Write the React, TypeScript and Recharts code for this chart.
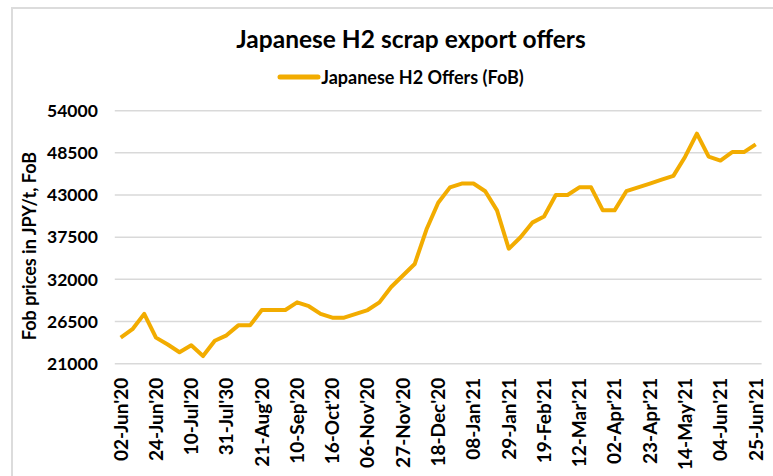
import React from 'react';
import { LineChart, Line, XAxis, YAxis, CartesianGrid } from 'recharts';

const dates = [
    "02-Jun'20", "09-Jun'20", "17-Jun'20", "24-Jun'20", "30-Jun'20", "03-Jul'20", "10-Jul'20", "17-Jul'20",
    "24-Jul'20", "31-Jul'30", "07-Aug'20", "14-Aug'20", "21-Aug'20", "28-Aug'20", "04-Sep'20", "10-Sep'20",
    "18-Sep'20", "02-Oct'20", "16-Oct'20", "23-Oct'20", "30-Oct'20", "06-Nov'20", "13-Nov'20", "20-Nov'20",
    "27-Nov'20", "04-Dec'20", "11-Dec'20", "18-Dec'20", "25-Dec'20", "31-Dec'20", "08-Jan'21", "15-Jan'21",
    "22-Jan'21", "29-Jan'21", "05-Feb'21", "12-Feb'21", "19-Feb'21", "26-Feb'21", "05-Mar'21", "12-Mar'21",
    "19-Mar'21", "26-Mar'21", "02-Apr'21", "09-Apr'21", "16-Apr'21", "23-Apr'21", "30-Apr'21", "07-May'21",
    "14-May'21", "21-May'21", "28-May'21", "04-Jun'21", "11-Jun'21", "18-Jun'21", "25-Jun'21",
];

const offers = [
    24400, 25500, 27500, 24400, 23500, 22500, 23400, 22000,
    24000, 24700, 26000, 26000, 28000, 28000, 28000, 29000,
    28500, 27500, 27000, 27000, 27500, 28000, 29000, 31000,
    32500, 34000, 38500, 42000, 44000, 44500, 44500, 43500,
    41000, 36000, 37500, 39400, 40200, 43000, 43000, 44000,
    44000, 41000, 41000, 43500, 44000, 44500, 45000, 45500,
    48000, 51000, 48000, 47500, 48600, 48600, 49600,
];

const yTicks = [21000, 26500, 32000, 37500, 43000, 48500, 54000];

const SERIES_NAME = 'Japanese H2 Offers (FoB)';
const LINE_COLOR = '#F2AC00';
const FONT = 'Lato, "Open Sans", sans-serif';

const data = dates.map((d, i) => ({ date: d, offer: offers[i] }));

const DateTick = ({ x, y, payload }: any) => (
    <text
        x={x}
        y={y}
        transform={`rotate(-90, ${x}, ${y})`}
        textAnchor="end"
        dy="0.36em"
        fontFamily={FONT}
        fontWeight={700}
        fontSize={19}
        fill="#000"
    >
        {payload.value}
    </text>
);

const App: React.FC = () => {
    return (
        <div style={{ position: 'absolute', left: 0, top: 0, width: 773, height: 476, background: '#fff', overflow: 'hidden' }}>
            <div style={{ position: 'absolute', left: 11, top: 7, right: 0, bottom: 0, borderTop: '2px solid #dcdcdc', borderLeft: '2px solid #dcdcdc' }} />
            <div style={{ position: 'absolute', left: 0, width: 822, top: 24, textAlign: 'center', fontFamily: FONT, fontWeight: 700, fontSize: 24.5, color: '#000' }}>
                Japanese H2 scrap export offers
            </div>
            {/* legend */}
            <div style={{ position: 'absolute', left: 14, width: 773, top: 66, display: 'flex', alignItems: 'center', justifyContent: 'center', fontFamily: FONT, fontWeight: 700, fontSize: 18, color: '#000' }}>
                <svg width={44} height={10}>
                    <line x1={3} y1={5} x2={41} y2={5} stroke={LINE_COLOR} strokeWidth={5} strokeLinecap="round" />
                </svg>
                <span>{SERIES_NAME}</span>
            </div>
            <div style={{ position: 'absolute', left: 29, top: 246, width: 0, height: 0 }}>
                <div style={{ position: 'absolute', transform: 'translate(-50%, -50%) rotate(-90deg)', whiteSpace: 'nowrap', fontFamily: FONT, fontWeight: 700, fontSize: 18, color: '#000' }}>
                    Fob prices in JPY/t, FoB
                </div>
            </div>
            <LineChart
                width={773}
                height={476}
                data={data}
                margin={{ top: 110.7, right: 11.4, bottom: 12.3, left: 54.8 }}
                style={{ position: 'absolute', left: 0, top: 0 }}
            >
                <CartesianGrid vertical={false} stroke="#d9d9d9" strokeWidth={1.5} />
                <XAxis
                    dataKey="date"
                    interval={2}
                    tick={<DateTick />}
                    tickLine={false}
                    axisLine={false}
                    tickMargin={8}
                    padding={{ left: 5.9, right: 5.9 }}
                    height={100}
                />
                <YAxis
                    domain={[21000, 54000]}
                    ticks={yTicks}
                    interval={0}
                    width={60}
                    tickLine={false}
                    axisLine={false}
                    tickMargin={11}
                    tick={{ fontFamily: FONT, fontWeight: 700, fontSize: 17.5, fill: '#000' }}
                />
                <Line
                    type="linear"
                    dataKey="offer"
                    name={SERIES_NAME}
                    stroke={LINE_COLOR}
                    strokeWidth={4}
                    strokeLinejoin="round"
                    dot={false}
                    isAnimationActive={false}
                />
            </LineChart>
        </div>
    );
};

export default App;
